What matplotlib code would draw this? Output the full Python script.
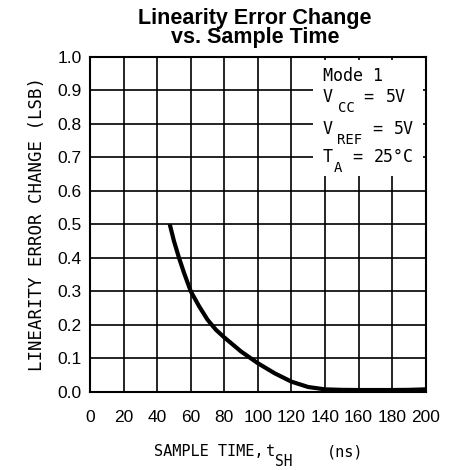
import matplotlib
matplotlib.use("Agg")
import matplotlib.pyplot as plt
from matplotlib.patches import Rectangle

# data
sample_time_ns = [47.5, 50, 53, 56, 60, 65, 70, 75, 80, 90, 100, 110, 120, 130, 140, 150, 160, 170, 180, 190, 200]
error_change_lsb = [0.50, 0.45, 0.40, 0.355, 0.30, 0.255, 0.215, 0.185, 0.162, 0.12, 0.085, 0.055, 0.030, 0.014, 0.007, 0.0055, 0.005, 0.005, 0.005, 0.0055, 0.007]
x_ticks = [0, 20, 40, 60, 80, 100, 120, 140, 160, 180, 200]
y_ticks = [0.0, 0.1, 0.2, 0.3, 0.4, 0.5, 0.6, 0.7, 0.8, 0.9, 1.0]
title_lines = ["Linearity Error Change", "vs. Sample Time"]
y_label = "LINEARITY ERROR CHANGE (LSB)"
# (text, is_subscript, left edge in px) pieces of the x label and of the condition notes
x_label_parts = [("SAMPLE TIME,", False, 154), ("t", False, 266), ("SH", True, 275), ("(ns)", False, 327)]
note_lines = [
    [("Mode 1", False, 323)],
    [("V", False, 323), ("CC", True, 338), ("=", False, 363), ("5V", False, 386)],
    [("V", False, 323), ("REF", True, 337), ("=", False, 372), ("5V", False, 394)],
    [("T", False, 323), ("A", True, 334), ("=", False, 352), ("25°C", False, 374)],
]
note_baselines_px = [81, 102, 133.5, 162]

W, H = 450, 470
fig = plt.figure(figsize=(W / 100, H / 100), dpi=100)
ax = fig.add_axes([90 / W, 1 - 391.7 / H, 335.7 / W, 335 / H])

ax.plot(sample_time_ns, error_change_lsb, color="black", lw=3, solid_capstyle="butt", zorder=4)

ax.set_xlim(0, 200)
ax.set_ylim(0, 1.0)
ax.set_xticks(x_ticks)
ax.set_yticks(y_ticks)
ax.set_xticklabels([str(t) for t in x_ticks], fontfamily="Liberation Sans", fontsize=12.5)
ax.set_yticklabels([f"{t:.1f}" for t in y_ticks], fontfamily="Liberation Sans", fontsize=12.5)
ax.tick_params(length=0)
ax.tick_params(axis="x", pad=13)
ax.tick_params(axis="y", pad=6)
ax.grid(True, color="black", lw=1.2, zorder=1)
ax.set_axisbelow(True)
for s in ax.spines.values():
    s.set_linewidth(1.5)

# white annotation box covering the grid
ax.add_patch(Rectangle((133, 0.645), 65.5, 0.345, facecolor="white", edgecolor="none", zorder=2))


def put_parts(parts, baseline_px, main_size, sub_size, sub_drop_px):
    for txt, sub, x_px in parts:
        yb = baseline_px + (sub_drop_px if sub else 0)
        fig.text(x_px / W, 1 - yb / H, txt, fontfamily="DejaVu Sans Mono",
                 fontsize=sub_size if sub else main_size, ha="left", va="baseline", zorder=5)


for parts, b in zip(note_lines, note_baselines_px):
    put_parts(parts, b, 12, 10, 10.5)

put_parts(x_label_parts, 456.5, 11, 10.5, 9.5)

ax.set_ylabel(y_label, fontfamily="DejaVu Sans Mono", fontsize=12.5)
ax.yaxis.set_label_coords(-0.13, 0.5)

fig.text(0.567, 1 - 24 / H, title_lines[0], ha="center", va="baseline", fontfamily="Liberation Sans", fontweight="bold", fontsize=15.5)
fig.text(0.567, 1 - 43 / H, title_lines[1], ha="center", va="baseline", fontfamily="Liberation Sans", fontweight="bold", fontsize=15.5)

fig.savefig("out.png", dpi=100)
